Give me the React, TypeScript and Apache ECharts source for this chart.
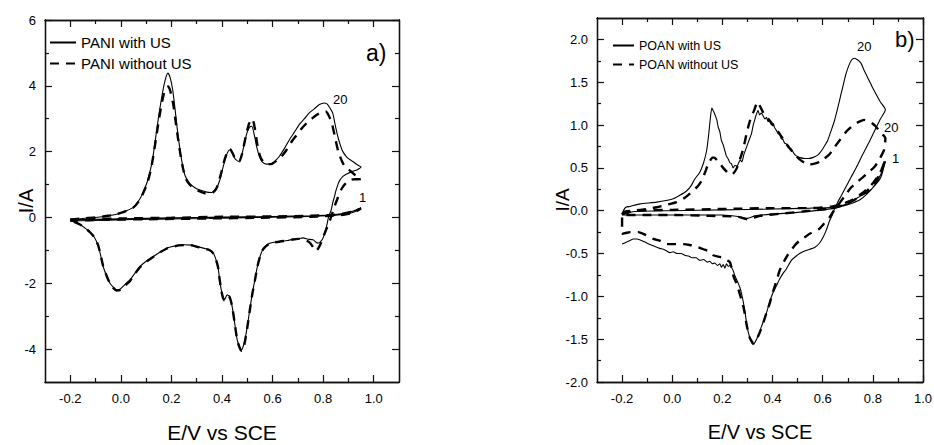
import React, { useEffect, useRef } from "react";
import * as echarts from "echarts";

type Pt = [number, number];

// ---------- Panel a) PANI ----------
const paniWithUS20: Pt[] = [
  [-0.2, -0.07], [-0.15, -0.03], [-0.1, 0.0], [-0.05, 0.05], [-0.017, 0.1], [0.02, 0.2], [0.048, 0.3],
  [0.07, 0.5], [0.087, 0.74], [0.105, 1.1], [0.12, 1.55], [0.13, 2.0], [0.14, 2.56], [0.15, 3.1],
  [0.16, 3.58], [0.17, 4.0], [0.18, 4.3], [0.186, 4.39], [0.195, 4.25], [0.205, 3.88], [0.215, 3.25],
  [0.225, 2.56], [0.235, 2.0], [0.245, 1.55], [0.255, 1.25], [0.27, 1.05], [0.29, 0.92], [0.31, 0.84],
  [0.34, 0.77], [0.36, 0.76], [0.375, 0.85], [0.39, 1.1], [0.405, 1.55], [0.418, 1.9], [0.43, 2.05],
  [0.44, 1.98], [0.45, 1.8], [0.465, 1.7], [0.478, 1.9], [0.49, 2.3], [0.5, 2.6], [0.51, 2.75],
  [0.518, 2.77], [0.528, 2.5], [0.537, 2.15], [0.548, 1.85], [0.56, 1.68], [0.575, 1.62], [0.59, 1.62],
  [0.61, 1.72], [0.627, 1.86], [0.647, 2.1], [0.667, 2.37], [0.687, 2.6], [0.706, 2.83], [0.726, 3.0],
  [0.745, 3.18], [0.765, 3.3], [0.785, 3.43], [0.805, 3.48], [0.815, 3.45], [0.825, 3.35], [0.838, 3.17],
  [0.848, 2.8], [0.858, 2.46], [0.868, 2.2], [0.878, 2.0], [0.895, 1.82], [0.917, 1.7], [0.935, 1.6],
  [0.95, 1.53],
  [0.935, 1.45], [0.917, 1.4], [0.895, 1.33], [0.878, 1.25], [0.865, 1.12], [0.858, 0.99], [0.85, 0.8],
  [0.845, 0.64], [0.838, 0.45], [0.832, 0.23], [0.822, 0.03], [0.812, -0.32], [0.803, -0.55],
  [0.796, -0.68], [0.787, -0.75], [0.779, -0.78], [0.77, -0.74], [0.76, -0.68], [0.74, -0.66],
  [0.72, -0.62], [0.7, -0.65], [0.68, -0.66], [0.66, -0.7], [0.63, -0.73], [0.6, -0.76], [0.585, -0.8],
  [0.57, -0.9], [0.56, -1.0], [0.55, -1.2], [0.54, -1.49], [0.53, -1.9], [0.52, -2.3], [0.51, -2.8],
  [0.5, -3.31], [0.49, -3.75], [0.48, -4.0], [0.475, -4.02], [0.468, -3.9], [0.46, -3.72], [0.45, -3.2],
  [0.44, -2.7], [0.43, -2.4], [0.42, -2.35], [0.41, -2.5], [0.403, -2.4], [0.397, -2.2], [0.39, -1.85],
  [0.384, -1.49], [0.375, -1.25], [0.365, -1.08], [0.35, -0.98], [0.33, -0.94], [0.3, -0.88],
  [0.28, -0.84], [0.25, -0.83], [0.23, -0.84], [0.2, -0.89], [0.18, -0.94], [0.155, -1.05], [0.13, -1.18],
  [0.1, -1.33], [0.076, -1.49], [0.055, -1.7], [0.037, -1.89], [0.015, -2.05], [-0.003, -2.18],
  [-0.017, -2.2], [-0.03, -2.12], [-0.043, -2.0], [-0.055, -1.8], [-0.07, -1.49], [-0.08, -1.15],
  [-0.09, -0.85], [-0.105, -0.6], [-0.122, -0.45], [-0.14, -0.33], [-0.16, -0.22], [-0.18, -0.15],
  [-0.2, -0.1],
];

const paniWithoutUS20: Pt[] = [
  [-0.2, -0.07], [-0.15, -0.03], [-0.1, 0.0], [-0.05, 0.05], [-0.017, 0.1], [0.02, 0.19], [0.048, 0.29],
  [0.07, 0.48], [0.087, 0.72], [0.105, 1.05], [0.12, 1.5], [0.13, 1.95], [0.14, 2.45], [0.15, 2.95],
  [0.16, 3.4], [0.17, 3.75], [0.18, 3.95], [0.188, 3.98], [0.197, 3.8], [0.207, 3.45], [0.217, 2.9],
  [0.227, 2.35], [0.237, 1.85], [0.247, 1.45], [0.257, 1.18], [0.272, 1.0], [0.29, 0.88], [0.31, 0.8],
  [0.33, 0.74], [0.35, 0.72], [0.365, 0.76], [0.38, 0.92], [0.395, 1.3], [0.41, 1.75], [0.422, 2.0],
  [0.432, 2.08], [0.442, 1.95], [0.455, 1.75], [0.468, 1.7], [0.48, 1.95], [0.495, 2.5], [0.507, 2.85],
  [0.52, 3.0], [0.53, 2.7], [0.54, 2.2], [0.55, 1.87], [0.562, 1.7], [0.578, 1.62], [0.595, 1.62],
  [0.615, 1.72], [0.635, 1.85], [0.655, 2.05], [0.675, 2.3], [0.695, 2.5], [0.715, 2.7], [0.735, 2.87],
  [0.755, 3.0], [0.775, 3.12], [0.795, 3.2], [0.81, 3.22], [0.822, 3.1], [0.835, 2.85], [0.848, 2.4],
  [0.86, 2.0], [0.875, 1.7], [0.89, 1.5], [0.905, 1.43], [0.925, 1.3], [0.95, 1.17],
  [0.925, 1.16], [0.904, 1.14], [0.885, 1.0], [0.871, 0.84], [0.858, 0.6], [0.845, 0.33], [0.83, -0.02],
  [0.812, -0.37], [0.8, -0.6], [0.79, -0.8], [0.78, -0.95], [0.77, -1.02], [0.76, -0.9], [0.745, -0.75],
  [0.72, -0.66], [0.7, -0.65], [0.68, -0.67], [0.66, -0.7], [0.63, -0.73], [0.6, -0.77], [0.585, -0.81],
  [0.57, -0.9], [0.56, -1.0], [0.55, -1.2], [0.54, -1.5], [0.53, -1.92], [0.52, -2.32], [0.51, -2.82],
  [0.5, -3.35], [0.49, -3.8], [0.482, -4.05], [0.476, -4.05], [0.468, -3.92], [0.46, -3.72], [0.45, -3.2],
  [0.44, -2.7], [0.43, -2.42], [0.42, -2.38], [0.41, -2.52], [0.403, -2.42], [0.397, -2.2], [0.39, -1.85],
  [0.384, -1.5], [0.375, -1.26], [0.365, -1.09], [0.35, -0.99], [0.33, -0.95], [0.3, -0.89],
  [0.28, -0.85], [0.25, -0.84], [0.23, -0.85], [0.2, -0.9], [0.18, -0.95], [0.155, -1.06], [0.13, -1.19],
  [0.1, -1.35], [0.076, -1.51], [0.055, -1.72], [0.037, -1.92], [0.015, -2.08], [-0.003, -2.2],
  [-0.017, -2.22], [-0.03, -2.14], [-0.043, -2.0], [-0.055, -1.8], [-0.07, -1.48], [-0.08, -1.14],
  [-0.09, -0.84], [-0.105, -0.6], [-0.122, -0.45], [-0.14, -0.33], [-0.16, -0.22], [-0.18, -0.15],
  [-0.2, -0.1],
];

const paniWithUS1: Pt[] = [
  [-0.2, -0.07], [0.0, -0.04], [0.2, -0.01], [0.4, 0.01], [0.6, 0.03], [0.75, 0.05], [0.82, 0.07],
  [0.87, 0.11], [0.91, 0.18], [0.95, 0.29],
  [0.92, 0.16], [0.87, 0.08], [0.75, 0.03], [0.55, 0.0], [0.35, -0.03], [0.15, -0.05], [-0.05, -0.08],
  [-0.2, -0.11],
];

const paniWithoutUS1: Pt[] = [
  [-0.2, -0.06], [0.0, -0.03], [0.2, -0.01], [0.4, 0.02], [0.6, 0.03], [0.75, 0.05], [0.82, 0.07],
  [0.87, 0.1], [0.91, 0.17], [0.95, 0.27],
  [0.92, 0.15], [0.87, 0.07], [0.75, 0.02], [0.55, -0.01], [0.35, -0.03], [0.15, -0.05], [-0.05, -0.07],
  [-0.2, -0.1],
];

// ---------- Panel b) POAN ----------
const poanWithUS20: Pt[] = [
  [-0.2, -0.05], [-0.195, 0.0], [-0.185, 0.04], [-0.168, 0.05], [-0.128, 0.08], [-0.062, 0.1],
  [0.004, 0.14], [0.03, 0.18], [0.057, 0.23], [0.075, 0.29], [0.09, 0.37], [0.11, 0.45], [0.125, 0.56],
  [0.137, 0.7], [0.145, 0.88], [0.152, 1.08], [0.158, 1.2], [0.163, 1.17], [0.168, 1.14], [0.173, 1.1],
  [0.178, 1.06], [0.183, 0.98], [0.19, 0.92], [0.196, 0.82], [0.203, 0.77], [0.21, 0.7], [0.216, 0.64],
  [0.224, 0.6], [0.23, 0.56], [0.236, 0.55], [0.243, 0.5], [0.25, 0.53], [0.258, 0.52], [0.265, 0.56],
  [0.272, 0.59], [0.278, 0.57], [0.285, 0.65], [0.296, 0.74], [0.306, 0.82], [0.316, 0.9], [0.323, 1.0],
  [0.329, 1.06], [0.335, 1.12], [0.342, 1.17], [0.348, 1.12], [0.355, 1.14], [0.362, 1.11], [0.37, 1.07],
  [0.376, 1.09], [0.382, 1.04], [0.389, 1.05], [0.395, 1.0], [0.402, 1.02], [0.408, 0.97], [0.415, 0.94],
  [0.422, 0.9], [0.428, 0.89], [0.435, 0.84], [0.442, 0.83], [0.448, 0.79], [0.455, 0.78], [0.462, 0.74],
  [0.475, 0.72], [0.485, 0.67], [0.495, 0.64], [0.51, 0.62], [0.528, 0.61], [0.545, 0.61], [0.56, 0.62],
  [0.575, 0.64], [0.587, 0.67], [0.6, 0.72], [0.61, 0.77], [0.62, 0.82], [0.633, 0.93], [0.647, 1.05],
  [0.66, 1.2], [0.673, 1.36], [0.683, 1.48], [0.693, 1.6], [0.705, 1.7], [0.715, 1.76], [0.726, 1.78],
  [0.74, 1.76], [0.753, 1.72], [0.765, 1.64], [0.78, 1.55], [0.795, 1.46], [0.813, 1.36], [0.83, 1.27],
  [0.85, 1.18],
  [0.83, 1.07], [0.81, 0.95], [0.785, 0.8], [0.76, 0.66], [0.735, 0.51], [0.713, 0.39], [0.693, 0.28],
  [0.675, 0.18], [0.66, 0.1], [0.647, 0.02], [0.637, -0.06], [0.627, -0.12], [0.614, -0.23], [0.6, -0.32],
  [0.587, -0.38], [0.568, -0.43], [0.548, -0.45], [0.528, -0.47], [0.508, -0.5], [0.49, -0.54],
  [0.475, -0.58], [0.455, -0.68], [0.44, -0.74], [0.428, -0.8], [0.415, -0.88], [0.4, -0.97],
  [0.388, -1.07], [0.375, -1.2], [0.365, -1.28], [0.355, -1.36], [0.345, -1.44], [0.335, -1.51],
  [0.327, -1.55], [0.32, -1.56], [0.314, -1.52], [0.309, -1.48], [0.302, -1.4], [0.296, -1.3],
  [0.29, -1.18], [0.283, -1.06], [0.275, -0.95], [0.27, -0.9], [0.262, -0.84], [0.256, -0.8],
  [0.25, -0.76], [0.243, -0.7], [0.236, -0.66], [0.23, -0.64], [0.223, -0.65], [0.216, -0.62],
  [0.21, -0.67], [0.203, -0.63], [0.196, -0.66], [0.19, -0.62], [0.18, -0.64], [0.17, -0.61],
  [0.16, -0.62], [0.15, -0.59], [0.14, -0.6], [0.125, -0.57], [0.11, -0.58], [0.095, -0.55],
  [0.08, -0.55], [0.065, -0.53], [0.05, -0.52], [0.035, -0.5], [0.02, -0.5], [0.004, -0.48],
  [-0.01, -0.49], [-0.022, -0.47], [-0.036, -0.45], [-0.05, -0.44], [-0.075, -0.41], [-0.1, -0.38],
  [-0.12, -0.35], [-0.14, -0.33], [-0.155, -0.33], [-0.17, -0.35], [-0.185, -0.37], [-0.2, -0.39],
];

const poanWithoutUS20: Pt[] = [
  [-0.2, -0.04], [-0.19, -0.01], [-0.155, 0.0], [-0.1, 0.02], [-0.062, 0.04], [-0.02, 0.07],
  [0.017, 0.1], [0.05, 0.15], [0.07, 0.2], [0.085, 0.24], [0.1, 0.28], [0.117, 0.35], [0.13, 0.44],
  [0.14, 0.52], [0.15, 0.58], [0.16, 0.62], [0.168, 0.62], [0.178, 0.59], [0.19, 0.55], [0.203, 0.5],
  [0.216, 0.46], [0.228, 0.43], [0.238, 0.42], [0.248, 0.45], [0.258, 0.5], [0.27, 0.6], [0.283, 0.72],
  [0.295, 0.88], [0.305, 1.0], [0.315, 1.1], [0.325, 1.16], [0.335, 1.24], [0.342, 1.27], [0.35, 1.22],
  [0.362, 1.15], [0.375, 1.1], [0.389, 1.05], [0.41, 0.97], [0.428, 0.9], [0.448, 0.81], [0.468, 0.73],
  [0.488, 0.66], [0.508, 0.6], [0.528, 0.56], [0.548, 0.54], [0.568, 0.55], [0.587, 0.57], [0.607, 0.61],
  [0.627, 0.66], [0.647, 0.74], [0.667, 0.82], [0.687, 0.9], [0.707, 0.96], [0.727, 1.01], [0.746, 1.04],
  [0.765, 1.06], [0.78, 1.05], [0.797, 1.02], [0.813, 0.98], [0.826, 0.93], [0.839, 0.89], [0.85, 0.85],
  [0.846, 0.72], [0.826, 0.6], [0.806, 0.51], [0.783, 0.45], [0.76, 0.39], [0.735, 0.33], [0.713, 0.27],
  [0.69, 0.18], [0.67, 0.1], [0.655, 0.04], [0.64, -0.02], [0.627, -0.08], [0.614, -0.12], [0.6, -0.17],
  [0.587, -0.21], [0.568, -0.24], [0.548, -0.27], [0.528, -0.31], [0.508, -0.35], [0.49, -0.4],
  [0.475, -0.46], [0.46, -0.52], [0.448, -0.58], [0.438, -0.64], [0.428, -0.7], [0.418, -0.8],
  [0.408, -0.89], [0.398, -0.98], [0.389, -1.08], [0.375, -1.2], [0.362, -1.32], [0.352, -1.4],
  [0.342, -1.47], [0.332, -1.53], [0.325, -1.55], [0.318, -1.53], [0.31, -1.49], [0.303, -1.42],
  [0.296, -1.32], [0.286, -1.15], [0.276, -1.04], [0.266, -0.94], [0.256, -0.85], [0.246, -0.78],
  [0.24, -0.72], [0.236, -0.66], [0.23, -0.6], [0.22, -0.58], [0.203, -0.55], [0.19, -0.54],
  [0.163, -0.52], [0.15, -0.48], [0.125, -0.45], [0.097, -0.42], [0.07, -0.4], [0.044, -0.39],
  [0.01, -0.39], [-0.022, -0.39], [-0.036, -0.37], [-0.05, -0.35], [-0.075, -0.33], [-0.095, -0.3],
  [-0.115, -0.27], [-0.135, -0.25], [-0.155, -0.25], [-0.168, -0.25], [-0.185, -0.26], [-0.2, -0.27],
  [-0.2, -0.04],
];

const poanWithUS1: Pt[] = [
  [-0.2, -0.04], [-0.15, -0.01], [0.0, 0.0], [0.2, 0.01], [0.4, 0.02], [0.55, 0.03], [0.64, 0.04],
  [0.7, 0.08], [0.72, 0.12], [0.75, 0.17], [0.786, 0.23], [0.81, 0.3], [0.832, 0.39], [0.85, 0.58],
  [0.84, 0.48], [0.82, 0.36], [0.8, 0.27], [0.775, 0.19], [0.75, 0.13], [0.72, 0.09], [0.69, 0.06],
  [0.65, 0.03], [0.6, 0.01], [0.5, -0.02], [0.4, -0.04], [0.33, -0.06], [0.3, -0.09], [0.27, -0.07],
  [0.2, -0.05], [0.1, -0.05], [0.0, -0.05], [-0.1, -0.05], [-0.2, -0.05],
];

const poanWithoutUS1: Pt[] = [
  [-0.2, -0.04], [-0.15, 0.0], [0.0, 0.01], [0.2, 0.02], [0.4, 0.03], [0.55, 0.03], [0.64, 0.05],
  [0.68, 0.08], [0.72, 0.13], [0.76, 0.21], [0.8, 0.32], [0.83, 0.45], [0.85, 0.6],
  [0.835, 0.47], [0.81, 0.34], [0.78, 0.24], [0.745, 0.16], [0.71, 0.1], [0.675, 0.06], [0.64, 0.03],
  [0.55, 0.0], [0.45, -0.03], [0.35, -0.06], [0.3, -0.1], [0.26, -0.07], [0.15, -0.06], [0.0, -0.05],
  [-0.1, -0.05], [-0.2, -0.05],
];

// ---------- Axes ticks ----------
const xMajorTicks = [-0.2, 0.0, 0.2, 0.4, 0.6, 0.8, 1.0];
const xMinorTicksA = [-0.1, 0.1, 0.3, 0.5, 0.7, 0.9];
const xMinorTicksB = [-0.1, 0.1, 0.3, 0.5, 0.7, 0.9];
const yMajorTicksA = [-4, -2, 0, 2, 4, 6];
const yMinorTicksA = [-3, -1, 1, 3, 5];
const yMajorTicksB = [-2.0, -1.5, -1.0, -0.5, 0.0, 0.5, 1.0, 1.5, 2.0];
const yMinorTicksB = [-1.75, -1.25, -0.75, -0.25, 0.25, 0.75, 1.25, 1.75];

const SANS = "'Liberation Sans', Arial, sans-serif";
const AXIS_COLOR = "#111";

function makeXAxes(grid: number, min: number, max: number, major: number[], minor: number[], labelSize: number, nameSize: number, nameGap: number) {
  const base = {
    type: "value" as const,
    gridIndex: grid,
    min,
    max,
    splitLine: { show: false },
    axisLine: { show: true, onZero: false, lineStyle: { color: AXIS_COLOR, width: 1.3 } },
  };
  const tick = (vals: number[], len: number) => ({
    show: true, inside: true, length: len, customValues: vals, lineStyle: { color: AXIS_COLOR, width: 1.2 },
  });
  return [
    {
      ...base, position: "bottom", axisTick: tick(major, 7),
      axisLabel: {
        customValues: major, formatter: (v: number) => v.toFixed(1), color: "#000",
        fontFamily: SANS, fontSize: labelSize, margin: 10,
      },
      name: "E/V vs SCE", nameLocation: "middle", nameGap, nameMoveOverlap: false,
      nameTextStyle: { fontFamily: SANS, fontSize: nameSize, color: "#000" },
    },
    { ...base, position: "bottom", axisTick: tick(minor, 4), axisLabel: { show: false } },
    { ...base, position: "top", axisTick: tick(major, 7), axisLabel: { show: false } },
    { ...base, position: "top", axisTick: tick(minor, 4), axisLabel: { show: false } },
  ];
}

function makeYAxes(grid: number, min: number, max: number, major: number[], minor: number[], labelSize: number, decimals: number, nameSize: number, nameGap: number) {
  const base = {
    type: "value" as const,
    gridIndex: grid,
    min,
    max,
    splitLine: { show: false },
    axisLine: { show: true, onZero: false, lineStyle: { color: AXIS_COLOR, width: 1.3 } },
  };
  const tick = (vals: number[], len: number) => ({
    show: true, inside: true, length: len, customValues: vals, lineStyle: { color: AXIS_COLOR, width: 1.2 },
  });
  return [
    {
      ...base, position: "left", axisTick: tick(major, 7),
      axisLabel: {
        customValues: major, formatter: (v: number) => v.toFixed(decimals), color: "#000",
        fontFamily: SANS, fontSize: labelSize, margin: 9,
      },
      name: "I/A", nameLocation: "middle", nameGap, nameRotate: 90, nameMoveOverlap: false,
      nameTextStyle: { fontFamily: SANS, fontSize: nameSize, color: "#000" },
    },
    { ...base, position: "left", axisTick: tick(minor, 4), axisLabel: { show: false } },
    { ...base, position: "right", axisTick: tick(major, 7), axisLabel: { show: false } },
    { ...base, position: "right", axisTick: tick(minor, 4), axisLabel: { show: false } },
  ];
}

function curve(name: string, data: Pt[], xi: number, yi: number, dashed: boolean) {
  return {
    type: "line" as const,
    name,
    data,
    xAxisIndex: xi,
    yAxisIndex: yi,
    symbol: "none",
    showSymbol: false,
    smooth: 0.2,
    clip: false,
    lineStyle: dashed
      ? { color: "#000", width: 2.4, type: [9, 7] as number[] }
      : { color: "#000", width: 1.1, type: "solid" as const },
    itemStyle: { color: "#000" },
    emphasis: { disabled: true },
  };
}

const legendCommon = {
  orient: "vertical" as const,
  itemHeight: 14,
  itemGap: 6,
  padding: 0,
  selectedMode: false,
  itemStyle: { color: "rgba(0,0,0,0)", borderWidth: 0, opacity: 0 },
};

export default function App() {
  const ref = useRef<HTMLDivElement>(null);
  useEffect(() => {
    if (!ref.current) return;
    const chart = echarts.init(ref.current, undefined, { renderer: "svg" });
    const option = {
      animation: false,
      backgroundColor: "#fff",
      grid: [
        { left: 45, top: 20, width: 354, height: 362, outerBoundsMode: "none", containLabel: false },
        { left: 597, top: 18, width: 326, height: 364, outerBoundsMode: "none", containLabel: false },
      ],
      xAxis: [
        ...makeXAxes(0, -0.3, 1.1, xMajorTicks, xMinorTicksA, 13, 21, 40),
        ...makeXAxes(1, -0.3, 1.0, xMajorTicks, xMinorTicksB, 13, 20, 40),
      ],
      yAxis: [
        ...makeYAxes(0, -5, 6, yMajorTicksA, yMinorTicksA, 13, 0, 20, 9),
        ...makeYAxes(1, -2, 2.25, yMajorTicksB, yMinorTicksB, 13, 1, 19, 25),
      ],
      legend: [
        {
          ...legendCommon,
          left: 49, top: 35, itemWidth: 26,
          data: ["PANI with US", "PANI without US"],
          textStyle: { fontFamily: SANS, fontSize: 15, color: "#000" },
        },
        {
          ...legendCommon,
          left: 612, top: 39, itemWidth: 21,
          data: ["POAN with US", "POAN without US"],
          textStyle: { fontFamily: SANS, fontSize: 12.5, color: "#000" },
        },
      ],
      graphic: [
        { type: "text", left: 366, top: 41, style: { text: "a)", font: `23px ${SANS}`, fill: "#000" } },
        { type: "text", left: 333, top: 93, style: { text: "20", font: `13px ${SANS}`, fill: "#000" } },
        { type: "text", left: 359, top: 191, style: { text: "1", font: `13px ${SANS}`, fill: "#000" } },
        { type: "text", left: 895, top: 28, style: { text: "b)", font: `22px ${SANS}`, fill: "#000" } },
        { type: "text", left: 857, top: 40, style: { text: "20", font: `13px ${SANS}`, fill: "#000" } },
        { type: "text", left: 884, top: 121, style: { text: "20", font: `13px ${SANS}`, fill: "#000" } },
        { type: "text", left: 892, top: 152, style: { text: "1", font: `13px ${SANS}`, fill: "#000" } },
      ],
      series: [
        curve("PANI with US", paniWithUS20, 0, 0, false),
        curve("PANI with US", paniWithUS1, 0, 0, false),
        curve("PANI without US", paniWithoutUS20, 0, 0, true),
        curve("PANI without US", paniWithoutUS1, 0, 0, true),
        curve("POAN with US", poanWithUS20, 4, 4, false),
        curve("POAN with US", poanWithUS1, 4, 4, false),
        curve("POAN without US", poanWithoutUS20, 4, 4, true),
        curve("POAN without US", poanWithoutUS1, 4, 4, true),
      ],
    };
    chart.setOption(option as any);
    return () => chart.dispose();
  }, []);
  return (
    <div
      ref={ref}
      style={{ position: "fixed", left: 0, top: 0, width: 934, height: 445, background: "#fff" }}
    />
  );
}
